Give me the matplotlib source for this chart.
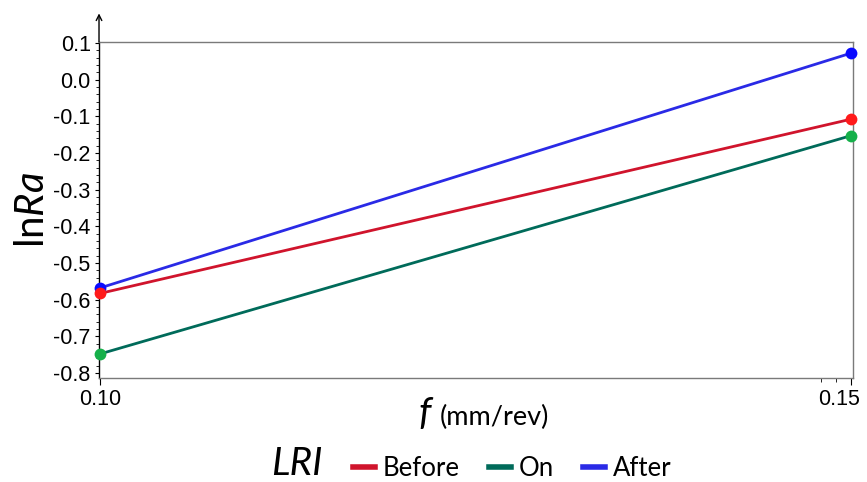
import matplotlib
matplotlib.use("Agg")
import matplotlib.pyplot as plt
from matplotlib.lines import Line2D
from matplotlib.ticker import MultipleLocator, FixedLocator, FuncFormatter
from matplotlib.transforms import ScaledTranslation

# ── data ───────────────────────────────────────────────────────────────────────
feed = [0.10, 0.15]
lri_levels = ["Before", "On", "After"]
ln_ra_before = [-0.583, -0.108]
ln_ra_on = [-0.748, -0.153]
ln_ra_after = [-0.568, 0.072]

line_colors = {"Before": "#d0142c", "On": "#006b5a", "After": "#2a2ae6"}
marker_colors = {"Before": "#ff1a1a", "On": "#15b04a", "After": "#0a0aff"}
marker_z = {"Before": 3.2, "On": 3.1, "After": 3.0}
series = {"Before": ln_ra_before, "On": ln_ra_on, "After": ln_ra_after}

plt.rcParams["mathtext.fontset"] = "custom"
plt.rcParams["mathtext.rm"] = "Lato"
plt.rcParams["mathtext.it"] = "Lato:italic"

fig = plt.figure(figsize=(8.67, 4.82), dpi=100)
ax = fig.add_axes([0.1142, 0.2158, 0.8696, 0.6971])

for name in lri_levels:
    ax.plot(feed, series[name], color=line_colors[name], lw=2.0, zorder=2)
    ax.plot(feed, series[name], "o", color=marker_colors[name], ms=8.5,
            markeredgewidth=0, zorder=marker_z[name], clip_on=False)

ax.set_xlim(0.09993, 0.15015)
ax.set_ylim(-0.8136, 0.1027)
ax.set_xticks(feed)
ax.set_xticklabels(["0.10", "0.15"])
ax.xaxis.set_minor_locator(FixedLocator([0.148, 0.149]))
ax.yaxis.set_major_locator(MultipleLocator(0.1))
ax.yaxis.set_minor_locator(MultipleLocator(0.02))
ax.yaxis.set_major_formatter(FuncFormatter(
    lambda v, _: f"{v:.1f}".replace("-0.0", "0.0")))

ax.tick_params(axis="both", labelsize=15.5, labelfontfamily="Liberation Sans")
ax.tick_params(axis="y", which="major", length=3, width=0.8, pad=3)
ax.tick_params(axis="y", which="minor", length=2, width=0.6)
ax.tick_params(axis="x", which="major", length=5, width=0.8, pad=3)
ax.tick_params(axis="x", which="minor", length=3, width=0.6)

# last x tick label sits shifted left so it stays inside the figure
fig.canvas.draw()
xlabs = ax.get_xticklabels()
xlabs[-1].set_transform(xlabs[-1].get_transform()
                        + ScaledTranslation(-12 / 100, 0, fig.dpi_scale_trans))

ax.spines["left"].set_color("black")
ax.spines["left"].set_linewidth(1.0)
for s in ["top", "right", "bottom"]:
    ax.spines[s].set_color("#7a7a7a")
    ax.spines[s].set_linewidth(1.0)

# arrow on top of y axis
ax.annotate("", xy=(0, 1.085), xytext=(0, 1.0), xycoords="axes fraction",
            arrowprops=dict(arrowstyle="->", color="black", lw=1.0,
                            shrinkA=0, shrinkB=0), annotation_clip=False)

ax.set_ylabel(r"ln$\mathit{Ra}$", fontsize=29, family="Lato", labelpad=2)

# x label
fig.text(0.497, 1 - 425 / 482, "f", style="italic", family="Lato",
         fontsize=28, ha="right", va="baseline")
fig.text(0.507, 1 - 425 / 482, "(mm/rev)", family="Lato",
         fontsize=19.5, ha="left", va="baseline")

# legend
fig.text(0.313, 1 - 475 / 482, "LRI", style="italic", family="Lato",
         fontsize=28, ha="left", va="baseline")
handles = [Line2D([], [], color=line_colors[n], lw=4) for n in lri_levels]
fig.legend(handles, lri_levels, loc="lower left", bbox_to_anchor=(0.401, -0.008),
           ncol=3, frameon=False, prop={"family": "Lato", "size": 18.5},
           handlelength=0.85, handletextpad=0.3, columnspacing=1.15,
           borderaxespad=0, borderpad=0.2)

fig.savefig("out.png", dpi=100)
